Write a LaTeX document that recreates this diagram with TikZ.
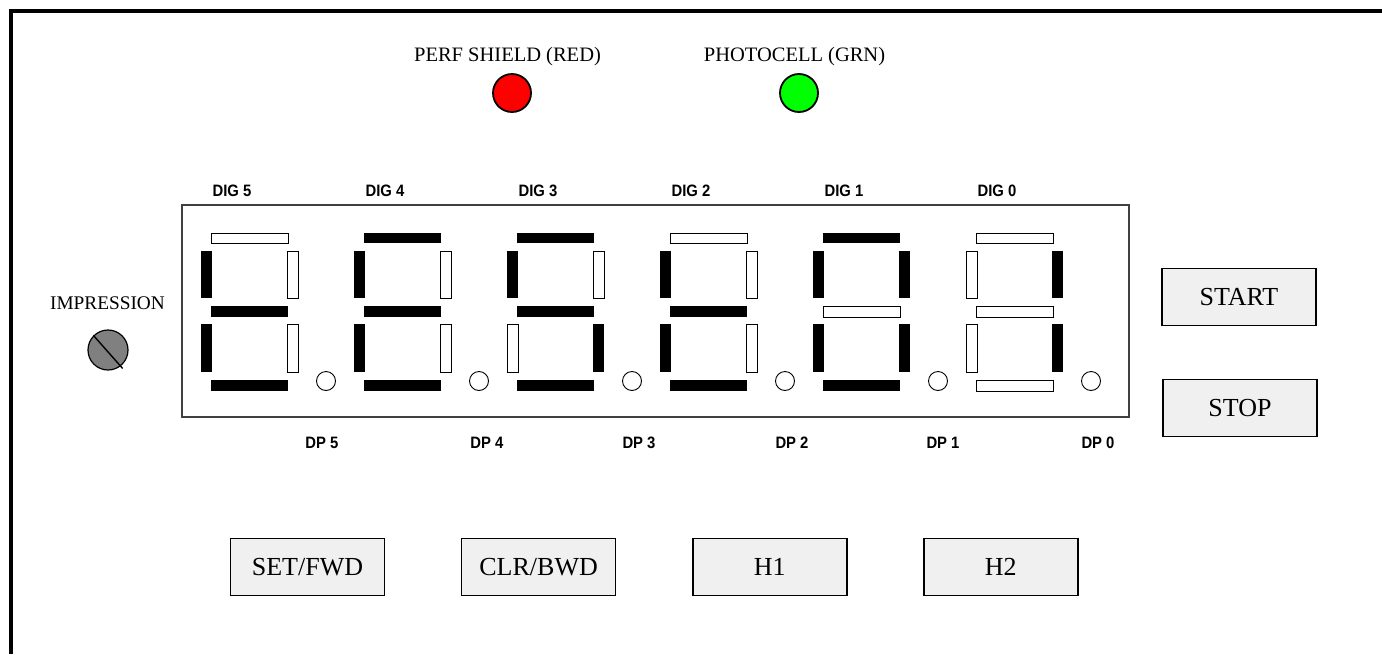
\documentclass[tikz,border=0pt]{standalone}
\usepackage{fontspec}
\setmainfont{Liberation Serif}
\newfontfamily\diglabelfont[FakeStretch=0.9]{Liberation Sans}
\usepackage{tikz}
\usetikzlibrary{positioning}

\definecolor{btngray}{HTML}{F0F0F0}
\definecolor{ledred}{HTML}{FF0000}
\definecolor{ledgreen}{HTML}{00FF00}
\definecolor{knobgray}{HTML}{808080}

\newcommand{\seg}[5]{\ifnum#1=1 \fill (#2,#3) rectangle (#4,#5);\else\filldraw[fill=white,line width=0.8pt] (#2,#3) rectangle (#4,#5);\fi}

\begin{document}
\begin{tikzpicture}[x=1pt,y=-1pt]
		\tikzset{btn/.style={draw,line width=1.6pt,fill=btngray,minimum width=154pt,minimum height=57pt,font=\fontsize{26}{30}\selectfont}}
		\tikzset{led/.style={circle,draw,line width=1.8pt,minimum size=38pt,inner sep=0pt}}
		\tikzset{panellabel/.style={inner sep=0pt,font=\fontsize{20.5}{24}\selectfont}}
		\tikzset{diglabel/.style={inner sep=0pt,font=\diglabelfont\bfseries\fontsize{16.5}{20}\selectfont}}
		\tikzset{dpdot/.style={circle,draw,line width=0.9pt,minimum size=19pt,inner sep=0pt}}
		\useasboundingbox (0,0) rectangle (1382,654);
		\draw[line width=4pt] (11,654) -- (11,11) -- (1382,11);
		\node[panellabel] (perflabel) at (507.5,57) {PERF SHIELD (RED)};
		\node[led,fill=ledred] (perf) at (512,93) {};
		\node[panellabel] (photolabel) at (794.5,57) {PHOTOCELL (GRN)};
		\node[led,fill=ledgreen] (photo) at (799,93) {};
		\node[panellabel,font=\fontsize{19.3}{23}\selectfont] (implabel) at (107.5,303) {IMPRESSION};
		\node[circle,draw,line width=1.2pt,fill=knobgray,minimum size=40pt,inner sep=0pt] (knob) at (108,350) {};
		\draw[line width=1.4pt,shorten >=-3pt] (knob.135) -- (knob.-52);
		\draw[black!75,line width=1.2pt] (182,205) rectangle (1129,417);
		\foreach \n/\dpx/\a/\b/\c/\d/\e/\f/\g [count=\i from 0] in {
		   5/322/0/0/0/1/1/1/1,
		   4/487/1/0/0/1/1/1/1,
		   3/639/1/0/1/1/0/1/1,
		   2/792/0/0/0/1/1/1/1,
		   1/943/1/1/1/1/1/1/0,
		   0/1098/0/1/1/0/0/0/0}{
		   \pgfmathsetmacro\xo{211+153*\i}
		   \node[diglabel] (dig\n) at (\xo+21,191) {DIG \n};
		   \begin{scope}[shift={(\xo,233)}]
		      \seg{\a}{0}{0}{77}{10}
		      \seg{\b}{76}{18}{87}{65}
		      \seg{\c}{76}{91}{87}{139}
		      \seg{\d}{0}{147}{77}{158}
		      \seg{\e}{-10}{91}{1}{139}
		      \seg{\f}{-10}{18}{1}{65}
		      \seg{\g}{0}{73}{77}{84}
		   \end{scope}
		   \node[dpdot] (dp\n) at (\xo+115,381) {};
		   \node[diglabel] (dplabel\n) at (\dpx,443) {DP \n};
		}
		\node[btn] (start) at (1239,297) {START};
		\node[btn] (stop) at (1240,408) {STOP};
		\node[btn] (setfwd) at (307.5,567) {SET/FWD};
		\node[btn,right=75.5pt of setfwd] (clrbwd) {CLR/BWD};
		\node[btn,right=75.5pt of clrbwd] (hone) {H1};
		\node[btn,right=75.5pt of hone] (htwo) {H2};
\end{tikzpicture}
\end{document}
